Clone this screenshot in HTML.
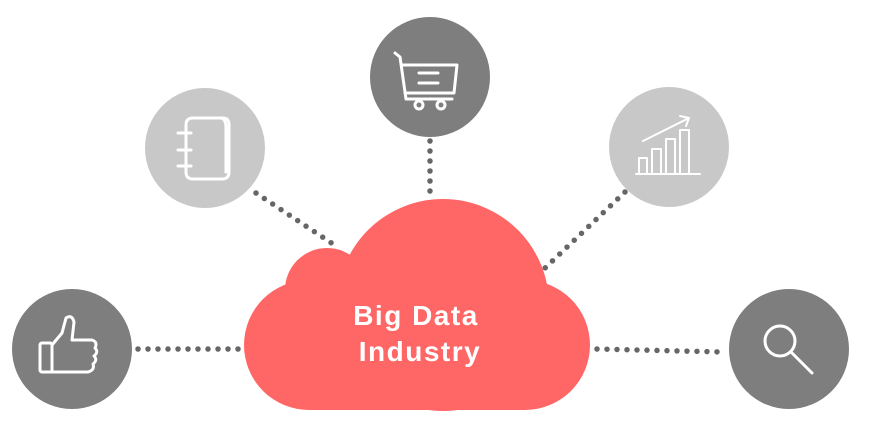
<!DOCTYPE html>
<html><head><style>body{margin:0;background:#fff}</style></head><body>
<svg width="879" height="441" viewBox="0 0 879 441" xmlns="http://www.w3.org/2000/svg">
<g stroke="#666" stroke-width="5.5" stroke-linecap="round" stroke-dasharray="0 10" fill="none">
<line x1="138" y1="349" x2="240" y2="349"/>
<line x1="597" y1="349" x2="724" y2="352"/>
<line x1="430" y1="141" x2="430" y2="196"/>
<line x1="256" y1="193" x2="336" y2="246"/>
<line x1="625" y1="192" x2="545" y2="268"/>
</g>
<g fill="#ff6666">
<circle cx="443" cy="305" r="106"/>
<circle cx="327" cy="290" r="42"/>
<circle cx="309" cy="345" r="65"/>
<circle cx="525" cy="345" r="65"/>
<rect x="309" y="300" width="216" height="110"/>
</g>
<text x="416" y="325" font-family="Liberation Sans, sans-serif" font-weight="bold" font-size="28" letter-spacing="1.5" fill="#fff" text-anchor="middle">Big Data</text>
<text x="420" y="361" font-family="Liberation Sans, sans-serif" font-weight="bold" font-size="28" letter-spacing="1.5" fill="#fff" text-anchor="middle">Industry</text>
<circle cx="72" cy="349" r="60" fill="#7d7e7d"/>
<circle cx="205" cy="148" r="60" fill="#c8c8c8"/>
<circle cx="430" cy="77" r="60" fill="#7d7e7d"/>
<circle cx="669" cy="147" r="60" fill="#c8c8c8"/>
<circle cx="789" cy="349" r="60" fill="#7d7e7d"/>
<g stroke="#fff" stroke-width="3" fill="none" stroke-linecap="round" stroke-linejoin="round">
<rect x="40" y="343" width="12" height="29" rx="2"/>
<path d="M52 345 L62 333 L66 318 Q72 314 74 322 L72 340 L92 340 Q98 342 95 348 Q99 352 94 356 Q98 360 93 364 Q95 370 88 372 L52 372"/>
<path d="M186 125 Q186 118 193 118 L223 118 Q229 118 229 125 L229 172 Q229 179 222 179 L193 179 Q186 179 186 172 Z"/>
<path d="M222 118 Q226 120 226 128 L226 172"/>
<line x1="178" y1="133" x2="191" y2="133"/><line x1="178" y1="150" x2="191" y2="150"/><line x1="178" y1="166" x2="191" y2="166"/>
<path d="M395 53 L400 57 L406 99 L452 99"/>
<path d="M402 65 L457 65 L454 93 L405 93"/>
<line x1="419" y1="73" x2="438" y2="73"/><line x1="419" y1="83" x2="438" y2="83"/>
<circle cx="419" cy="105" r="4"/><circle cx="441" cy="105" r="4"/>
<line x1="636" y1="174" x2="700" y2="174" stroke-width="2"/>
<path d="M639 174 V158 H647 V174 M652 174 V149 H661 V174 M666 174 V139 H675 V174 M680 174 V130 H689 V174" stroke-width="2"/>
<path d="M643 141 L689 118 M680 116 L689 118 L686 126" stroke-width="2"/>
<circle cx="780" cy="341" r="15"/>
<line x1="791" y1="352" x2="812" y2="373"/>
</g>
</svg>
</body></html>
